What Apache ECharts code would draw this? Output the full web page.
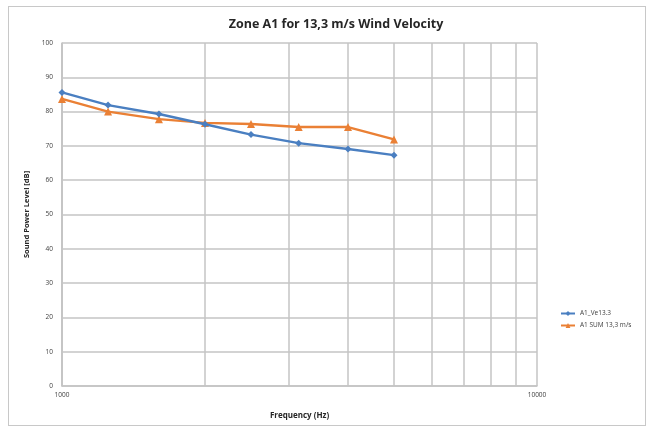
<!DOCTYPE html>
<html>
<head>
<meta charset="utf-8">
<script src="https://cdn.jsdelivr.net/npm/echarts@6/dist/echarts.min.js"></script>
<style>
  html, body { margin: 0; padding: 0; background: #ffffff; }
  #frame { position: absolute; left: 8px; top: 6px; width: 638px; height: 420px; border: 1px solid #c8c8c8; box-sizing: border-box; }
  #chart { position: absolute; left: 0; top: 0; width: 650px; height: 432px; }
</style>
</head>
<body>
<div id="frame"></div>
<div id="chart"></div>
<script>
// One-third-octave band centre frequencies (Hz)
const frequencies = [1000, 1250, 1600, 2000, 2500, 3150, 4000, 5000];
// Sound power levels (dB) per band
const levelsVe = [85.6, 81.9, 79.3, 76.3, 73.3, 70.8, 69.1, 67.3];
const levelsSum = [83.7, 80.0, 77.8, 76.7, 76.4, 75.5, 75.5, 71.9];
const seriesNames = ['A1_Ve13.3', 'A1 SUM 13,3 m/s'];
// Intermediate decade lines on the logarithmic frequency axis
const minorFrequencies = [2000, 3000, 4000, 5000, 6000, 7000, 8000, 9000];

const gridColor = '#c4c4c4';
const textColor = '#404040';
const font = 'Open Sans';

const chart = echarts.init(document.getElementById('chart'), null, { renderer: 'canvas' });

chart.setOption({
  animation: false,
  title: {
    text: 'Zone A1 for 13,3 m/s Wind Velocity',
    left: 331,
    textAlign: 'center',
    top: 13,
    textStyle: { fontFamily: font, fontWeight: 'bold', fontSize: 12.5, color: '#262626' }
  },
  grid: { left: 62, right: 113, top: 43, bottom: 46, containLabel: false },
  legend: {
    orient: 'vertical',
    left: 555,
    top: 305,
    itemWidth: 14,
    itemHeight: 6,
    itemGap: 5,
    textStyle: { fontFamily: font, fontSize: 6.5, color: textColor },
    data: seriesNames
  },
  xAxis: {
    type: 'log',
    logBase: 10,
    min: 1000,
    max: 10000,
    name: 'Frequency (Hz)',
    nameLocation: 'middle',
    nameGap: 26,
    nameTextStyle: { fontFamily: font, fontWeight: 'bold', fontSize: 8, color: '#262626' },
    axisLine: { show: true, lineStyle: { color: gridColor, width: 1.5 } },
    axisTick: { show: false },
    axisLabel: { fontFamily: font, fontSize: 6.5, color: textColor, margin: 6, formatter: v => String(Math.round(v)) },
    splitLine: { show: true, lineStyle: { color: gridColor, width: 1.5 } }
  },
  yAxis: {
    type: 'value',
    min: 0,
    max: 100,
    interval: 10,
    name: 'Sound Power Level [dB]',
    nameLocation: 'middle',
    nameGap: 29,
    nameRotate: 90,
    nameTextStyle: { fontFamily: font, fontWeight: 'bold', fontSize: 7.5, color: '#262626' },
    axisLine: { show: true, lineStyle: { color: gridColor, width: 1.5 } },
    axisTick: { show: false },
    axisLabel: { fontFamily: font, fontSize: 6.5, color: textColor, margin: 9 },
    splitLine: { show: true, lineStyle: { color: gridColor, width: 1.5 } }
  },
  series: [
    {
      name: seriesNames[0],
      type: 'line',
      data: frequencies.map((f, i) => [f, levelsVe[i]]),
      symbol: 'diamond',
      symbolSize: 7,
      lineStyle: { color: '#4a7fc1', width: 2.4 },
      itemStyle: { color: '#4a7fc1' },
      z: 3,
      markLine: {
        silent: true,
        symbol: 'none',
        label: { show: false },
        lineStyle: { color: gridColor, width: 1.5, type: 'solid' },
        data: minorFrequencies.map(f => ({ xAxis: f })),
        z: 1
      }
    },
    {
      name: seriesNames[1],
      type: 'line',
      data: frequencies.map((f, i) => [f, levelsSum[i]]),
      symbol: 'triangle',
      symbolSize: 8,
      lineStyle: { color: '#ea8035', width: 2.4 },
      itemStyle: { color: '#ea8035' },
      z: 2
    }
  ]
});
</script>
</body>
</html>
